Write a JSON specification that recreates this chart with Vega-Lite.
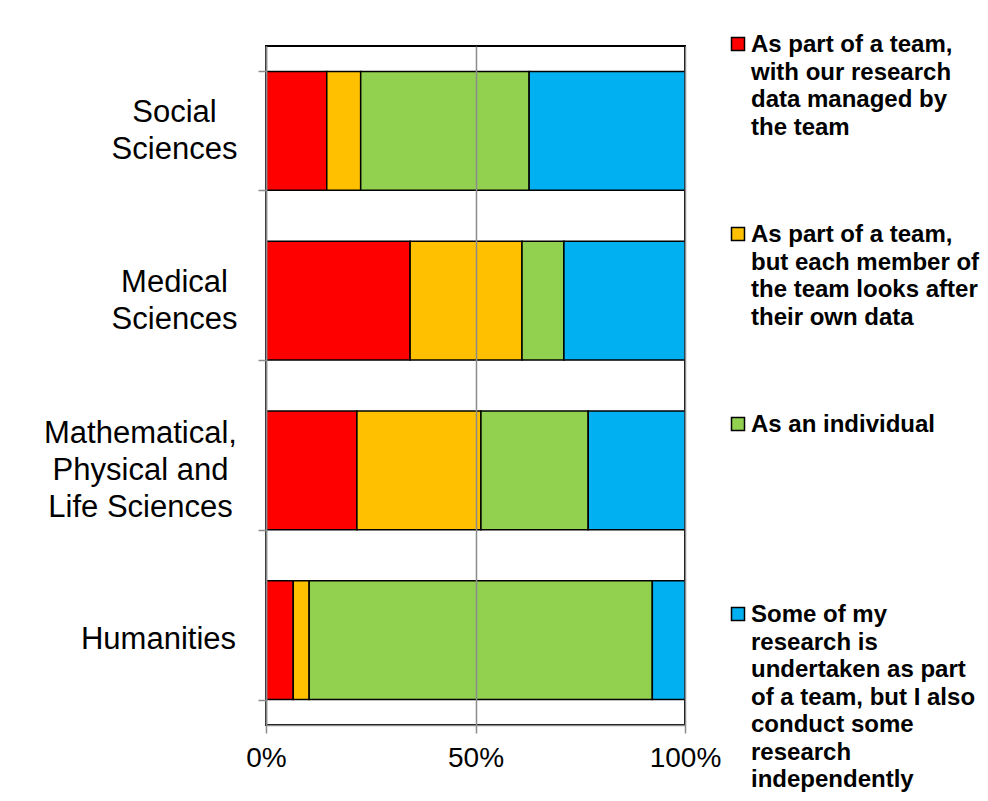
{
  "$schema": "https://vega.github.io/schema/vega-lite/v6.json",
  "autosize": {"type": "none"},
  "padding": {"left": 266, "top": 46, "right": 303, "bottom": 76},
  "width": 419,
  "height": 679,
  "background": "white",
  "config": {
    "view": {"stroke": "black", "strokeWidth": 2},
    "font": "Liberation Sans"
  },
  "data": {
    "values": [
      {"faculty": "Social Sciences", "k": 1, "mode": "As part of a team, with our research data managed by the team", "pct": 14.5},
      {"faculty": "Social Sciences", "k": 2, "mode": "As part of a team, but each member of the team looks after their own data", "pct": 8.1},
      {"faculty": "Social Sciences", "k": 3, "mode": "As an individual", "pct": 40.2},
      {"faculty": "Social Sciences", "k": 4, "mode": "Some of my research is undertaken as part of a team, but I also conduct some research independently", "pct": 37.2},
      {"faculty": "Medical Sciences", "k": 1, "mode": "As part of a team, with our research data managed by the team", "pct": 34.4},
      {"faculty": "Medical Sciences", "k": 2, "mode": "As part of a team, but each member of the team looks after their own data", "pct": 26.7},
      {"faculty": "Medical Sciences", "k": 3, "mode": "As an individual", "pct": 10.0},
      {"faculty": "Medical Sciences", "k": 4, "mode": "Some of my research is undertaken as part of a team, but I also conduct some research independently", "pct": 28.9},
      {"faculty": "Mathematical, Physical and Life Sciences", "k": 1, "mode": "As part of a team, with our research data managed by the team", "pct": 21.7},
      {"faculty": "Mathematical, Physical and Life Sciences", "k": 2, "mode": "As part of a team, but each member of the team looks after their own data", "pct": 29.6},
      {"faculty": "Mathematical, Physical and Life Sciences", "k": 3, "mode": "As an individual", "pct": 25.6},
      {"faculty": "Mathematical, Physical and Life Sciences", "k": 4, "mode": "Some of my research is undertaken as part of a team, but I also conduct some research independently", "pct": 23.1},
      {"faculty": "Humanities", "k": 1, "mode": "As part of a team, with our research data managed by the team", "pct": 6.5},
      {"faculty": "Humanities", "k": 2, "mode": "As part of a team, but each member of the team looks after their own data", "pct": 3.8},
      {"faculty": "Humanities", "k": 3, "mode": "As an individual", "pct": 81.9},
      {"faculty": "Humanities", "k": 4, "mode": "Some of my research is undertaken as part of a team, but I also conduct some research independently", "pct": 7.8}
    ]
  },
  "mark": {"type": "bar", "stroke": "black", "strokeWidth": 1.5},
  "encoding": {
    "y": {
      "field": "faculty",
      "type": "nominal",
      "sort": ["Social Sciences", "Medical Sciences", "Mathematical, Physical and Life Sciences", "Humanities"],
      "scale": {"paddingInner": 0.3, "paddingOuter": 0.15},
      "axis": {
        "title": null,
        "tickBand": "extent",
        "tickSize": 8,
        "tickColor": "#8c8c8c",
        "tickWidth": 1.5,
        "domainColor": "#8c8c8c",
        "domainWidth": 1.5,
        "zindex": 1,
        "labelFont": "Liberation Sans",
        "labelFontSize": 31,
        "labelLineHeight": 37,
        "labelColor": "black",
        "labelAlign": "center",
        "labelBaseline": "middle",
        "labelLimit": 0,
        "labelPadding": {
          "condition": [
            {"test": "datum.value === 'Social Sciences'", "value": 84},
            {"test": "datum.value === 'Medical Sciences'", "value": 84},
            {"test": "datum.value === 'Humanities'", "value": 100}
          ],
          "value": 118
        },
        "labelOffset": {
          "condition": [
            {"test": "datum.value === 'Social Sciences'", "value": -18.5},
            {"test": "datum.value === 'Medical Sciences'", "value": -18.5},
            {"test": "datum.value === 'Humanities'", "value": -1}
          ],
          "value": -37
        },
        "labelExpr": "datum.value === 'Social Sciences' ? ['Social', 'Sciences'] : datum.value === 'Medical Sciences' ? ['Medical', 'Sciences'] : datum.value === 'Humanities' ? 'Humanities' : datum.value === 'Mathematical, Physical and Life Sciences' ? ['Mathematical,', 'Physical and', 'Life Sciences'] : ''"
      }
    },
    "x": {
      "field": "pct",
      "type": "quantitative",
      "stack": "normalize",
      "axis": {
        "title": null,
        "values": [0, 0.5, 1],
        "format": ".0%",
        "grid": true,
        "gridColor": "#8c8c8c",
        "gridWidth": 1.5,
        "tickSize": 8,
        "tickColor": "#8c8c8c",
        "tickWidth": 1.5,
        "domainColor": "#8c8c8c",
        "domainWidth": 1.5,
        "zindex": 1,
        "labelFont": "Liberation Sans",
        "labelFontSize": 28,
        "labelColor": "black",
        "labelPadding": 11,
        "labelFlush": false
      }
    },
    "order": {"field": "k", "type": "quantitative"},
    "color": {
      "field": "mode",
      "type": "nominal",
      "scale": {
        "domain": [
          "As part of a team, with our research data managed by the team",
          "As part of a team, but each member of the team looks after their own data",
          "As an individual",
          "Some of my research is undertaken as part of a team, but I also conduct some research independently"
        ],
        "range": ["#FF0000", "#FFC000", "#92D050", "#00B0F0"]
      },
      "legend": {
        "title": null,
        "orient": "none",
        "legendX": 460,
        "legendY": -14,
        "padding": 0,
        "gridAlign": "all",
        "rowPadding": 0,
        "symbolType": "square",
        "symbolSize": 169,
        "symbolStrokeColor": "black",
        "symbolStrokeWidth": 1.5,
        "symbolOpacity": 1,
        "labelFont": "Liberation Sans",
        "labelFontSize": 24,
        "labelFontWeight": "bold",
        "labelColor": "black",
        "labelLimit": 0,
        "labelOffset": 1,
        "labelBaseline": "alphabetic",
        "labelExpr": "indexof(datum.label, 'with our') >= 0 ? ['As part of a team,', 'with our research', 'data managed by', 'the team'] : indexof(datum.label, 'each member') >= 0 ? ['As part of a team,', 'but each member of', 'the team looks after', 'their own data'] : datum.label === 'As an individual' ? 'As an individual' : ['Some of my', 'research is', 'undertaken as part', 'of a team, but I also', 'conduct some', 'research', 'independently']",
        "encode": {"labels": {"update": {"dy": {"value": 8}, "lineHeight": {"value": 27.5}}}}
      }
    }
  }
}
